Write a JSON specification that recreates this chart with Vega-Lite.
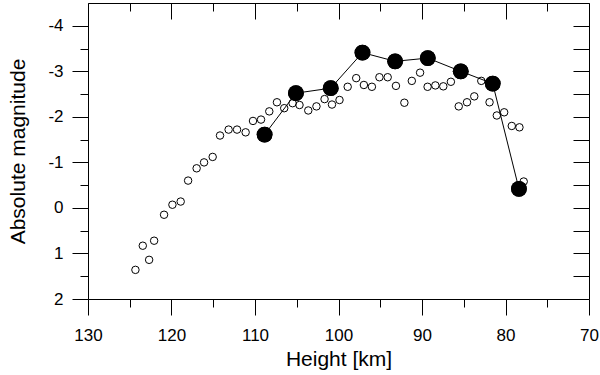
{
  "$schema": "https://vega.github.io/schema/vega-lite/v6.json",
  "width": 501,
  "height": 296,
  "autosize": "none",
  "padding": {"left": 88, "top": 3, "right": 11, "bottom": 76},
  "background": "white",
  "config": {
    "view": {"stroke": null},
    "font": "Liberation Sans",
    "axis": {
      "grid": false,
      "domainColor": "black",
      "domainWidth": 1,
      "tickColor": "black",
      "tickWidth": 1,
      "labelColor": "black",
      "titleColor": "black",
      "labelFont": "Liberation Sans",
      "titleFont": "Liberation Sans",
      "titleFontWeight": "normal"
    }
  },
  "datasets": {
    "open": [
      {"h": 124.32, "m": 1.36}, {"h": 123.44, "m": 0.83}, {"h": 122.68, "m": 1.14}, {"h": 122.08, "m": 0.72},
      {"h": 120.89, "m": 0.15}, {"h": 119.89, "m": -0.07}, {"h": 118.9, "m": -0.14}, {"h": 118.01, "m": -0.6},
      {"h": 116.99, "m": -0.87}, {"h": 116.1, "m": -1.0}, {"h": 115.07, "m": -1.12}, {"h": 114.19, "m": -1.59},
      {"h": 113.16, "m": -1.72}, {"h": 112.15, "m": -1.72}, {"h": 111.12, "m": -1.66}, {"h": 110.24, "m": -1.91},
      {"h": 109.28, "m": -1.94}, {"h": 108.29, "m": -2.12}, {"h": 107.37, "m": -2.32}, {"h": 106.5, "m": -2.19},
      {"h": 105.5, "m": -2.3}, {"h": 104.67, "m": -2.26}, {"h": 103.62, "m": -2.14}, {"h": 102.64, "m": -2.23},
      {"h": 101.67, "m": -2.39}, {"h": 100.78, "m": -2.27}, {"h": 99.88, "m": -2.37}, {"h": 98.9, "m": -2.66},
      {"h": 97.88, "m": -2.85}, {"h": 96.96, "m": -2.7}, {"h": 96.0, "m": -2.66}, {"h": 95.1, "m": -2.87},
      {"h": 94.11, "m": -2.87}, {"h": 93.12, "m": -2.68}, {"h": 92.11, "m": -2.31}, {"h": 91.22, "m": -2.79},
      {"h": 90.23, "m": -2.97}, {"h": 89.33, "m": -2.66}, {"h": 88.4, "m": -2.69}, {"h": 87.45, "m": -2.67},
      {"h": 86.54, "m": -2.77}, {"h": 85.6, "m": -2.23}, {"h": 84.61, "m": -2.32}, {"h": 83.74, "m": -2.45},
      {"h": 82.9, "m": -2.79}, {"h": 81.91, "m": -2.32}, {"h": 81.04, "m": -2.03}, {"h": 80.16, "m": -2.1},
      {"h": 79.25, "m": -1.8}, {"h": 78.33, "m": -1.77}, {"h": 77.82, "m": -0.58}
    ],
    "filled": [
      {"h": 108.85, "m": -1.61}, {"h": 105.1, "m": -2.52}, {"h": 100.93, "m": -2.63},
      {"h": 97.13, "m": -3.41}, {"h": 93.22, "m": -3.22}, {"h": 89.31, "m": -3.29},
      {"h": 85.36, "m": -3.0}, {"h": 81.53, "m": -2.73}, {"h": 78.39, "m": -0.42}
    ]
  },
  "layer": [
    {
      "data": {"name": "open"},
      "mark": {"type": "point", "shape": "circle", "filled": false, "stroke": "black", "strokeWidth": 1, "size": 56, "opacity": 1},
      "encoding": {
        "x": {
          "field": "h", "type": "quantitative",
          "scale": {"domain": [70, 130], "reverse": true, "nice": false, "zero": false},
          "axis": {
            "orient": "bottom", "values": [70, 80, 90, 100, 110, 120, 130],
            "tickSize": 16, "labelFontSize": 17, "labelPadding": 12, "labelFlush": false,
            "labelExpr": "'' + datum.value",
            "title": "Height [km]", "titleFontSize": 21, "titlePadding": 5
          }
        },
        "y": {
          "field": "m", "type": "quantitative",
          "scale": {"domain": [-4.5, 2], "reverse": true, "nice": false, "zero": false},
          "axis": {
            "orient": "left", "values": [-4, -3, -2, -1, 0, 1, 2],
            "tickSize": 16, "labelFontSize": 17, "labelPadding": 9, "labelFlush": false,
            "labelExpr": "'' + datum.value",
            "title": "Absolute magnitude", "titleFontSize": 21, "titlePadding": 19
          }
        }
      }
    },
    {
      "data": {"name": "filled"},
      "mark": {"type": "line", "color": "black", "strokeWidth": 1},
      "encoding": {
        "x": {
          "field": "h", "type": "quantitative",
          "scale": {"domain": [70, 130], "reverse": true, "nice": false, "zero": false},
          "axis": {"orient": "top", "values": [70, 80, 90, 100, 110, 120, 130], "tickSize": -16, "labels": false, "title": null}
        },
        "y": {
          "field": "m", "type": "quantitative",
          "scale": {"domain": [-4.5, 2], "reverse": true, "nice": false, "zero": false},
          "axis": {"orient": "right", "values": [-4, -3.5, -3, -2.5, -2, -1.5, -1, -0.5, 0, 0.5, 1, 1.5], "tickSize": -16, "labels": false, "title": null}
        }
      }
    },
    {
      "data": {"name": "filled"},
      "mark": {"type": "point", "shape": "circle", "filled": true, "color": "black", "size": 250, "opacity": 1},
      "encoding": {
        "x": {
          "field": "h", "type": "quantitative",
          "scale": {"domain": [70, 130], "reverse": true, "nice": false, "zero": false},
          "axis": {"orient": "bottom", "values": [75, 85, 95, 105, 115, 125], "tickSize": 8, "labels": false, "domain": false, "title": null}
        },
        "y": {
          "field": "m", "type": "quantitative",
          "scale": {"domain": [-4.5, 2], "reverse": true, "nice": false, "zero": false},
          "axis": {"orient": "left", "values": [-3.5, -2.5, -1.5, -0.5, 0.5, 1.5], "tickSize": 8, "labels": false, "domain": false, "title": null}
        }
      }
    },
    {
      "data": {"name": "filled"},
      "mark": {"type": "point", "shape": "circle", "filled": true, "color": "black", "size": 250, "opacity": 1},
      "encoding": {
        "x": {
          "field": "h", "type": "quantitative",
          "scale": {"domain": [70, 130], "reverse": true, "nice": false, "zero": false},
          "axis": {"orient": "top", "values": [75, 85, 95, 105, 115, 125], "tickSize": -8, "labels": false, "domain": false, "title": null}
        },
        "y": {
          "field": "m", "type": "quantitative",
          "scale": {"domain": [-4.5, 2], "reverse": true, "nice": false, "zero": false},
          "axis": null
        }
      }
    }
  ],
  "resolve": {"axis": {"x": "independent", "y": "independent"}}
}
